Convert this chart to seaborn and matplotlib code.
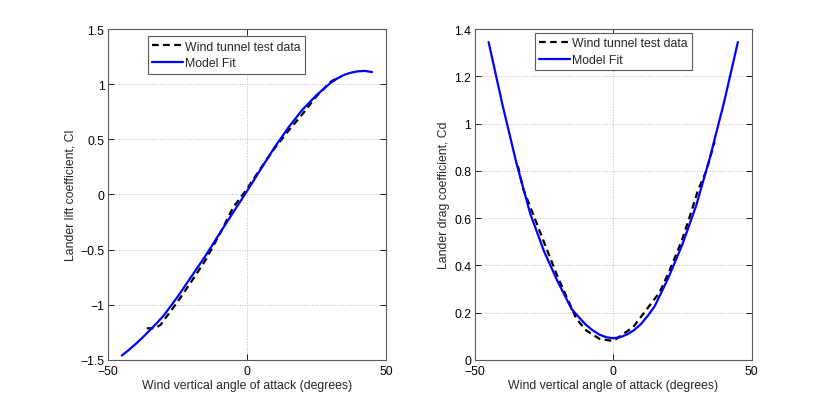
import matplotlib
matplotlib.use("Agg")
import matplotlib.pyplot as plt
import seaborn as sns
import pandas as pd

# Lift coefficient: model fit and wind tunnel data
lift_fit_alpha = [-45, -42.5, -40, -37.5, -35, -32.5, -30, -25, -20, -15, -10, -5, 0,
                  5, 10, 15, 20, 25, 30, 32.5, 35, 37.5, 40, 42.5, 45]
lift_fit_cl = [-1.46, -1.41, -1.355, -1.296, -1.233, -1.168, -1.10, -0.93, -0.745, -0.56,
               -0.36, -0.165, 0.03, 0.23, 0.43, 0.61, 0.77, 0.90, 1.01, 1.052, 1.085,
               1.105, 1.117, 1.12, 1.11]
lift_test_alpha = [-36, -33, -31, -25, -20, -15, -10, -5, 0, 5, 10, 15, 20, 25, 30, 32]
lift_test_cl = [-1.213, -1.213, -1.18, -0.975, -0.79, -0.60, -0.37, -0.12, 0.05,
                0.24, 0.42, 0.58, 0.73, 0.89, 1.02, 1.05]

# Drag coefficient: model fit and wind tunnel data
drag_fit_alpha = [-45, -40, -35, -30, -25, -20, -15, -12.5, -10, -7.5, -5, -2.5, 0,
                  2.5, 5, 7.5, 10, 12.5, 15, 20, 25, 30, 35, 40, 45]
drag_fit_cd = [1.345, 1.08, 0.835, 0.62, 0.46, 0.33, 0.215, 0.182, 0.15, 0.126, 0.107,
               0.096, 0.092, 0.096, 0.108, 0.126, 0.152, 0.187, 0.228, 0.35, 0.49,
               0.655, 0.86, 1.09, 1.345]
drag_test_alpha = [-34.4, -32.6, -28.3, -24.1, -20, -16, -13.3, -9.7, -4.9, 0,
                   2.3, 7.2, 10, 16.8, 20, 24.6, 28, 30.6, 33.6, 36.6]
drag_test_cd = [0.82, 0.726, 0.598, 0.471, 0.35, 0.245, 0.174, 0.124, 0.089, 0.08,
                0.099, 0.139, 0.182, 0.287, 0.37, 0.50, 0.62, 0.718, 0.80, 0.924]

x_ticks = [-50, 0, 50]
lift_ticks = [-1.5, -1, -0.5, 0, 0.5, 1, 1.5]
drag_ticks = [0, 0.2, 0.4, 0.6, 0.8, 1, 1.2, 1.4]

FS = 8.8

sns.set_style("ticks")
plt.rcParams['font.family'] = ['Liberation Sans', 'DejaVu Sans']
plt.rcParams['font.size'] = FS

fig = plt.figure(figsize=(8.3, 4.06), dpi=100)
ax1 = fig.add_axes([0.13, 0.111, 0.335, 0.815])
ax2 = fig.add_axes([0.572, 0.111, 0.3337, 0.815])


def fmt(v):
    return ('%g' % v).replace('-', '\u2212')


def draw(ax, ta, tv, fa, fv, yticks, ylim, ylabel, anchor):
    test = pd.DataFrame({'alpha': ta, 'val': tv})
    fit = pd.DataFrame({'alpha': fa, 'val': fv})
    sns.lineplot(data=test, x='alpha', y='val', ax=ax, color='black',
                 linestyle=(0, (3, 2)), linewidth=1.6, sort=False, estimator=None,
                 label='Wind tunnel test data')
    sns.lineplot(data=fit, x='alpha', y='val', ax=ax, color='#0000ff',
                 linewidth=1.6, sort=False, estimator=None, label='Model Fit')
    ax.set_xlim(-50, 50)
    ax.set_ylim(*ylim)
    ax.set_xticks(x_ticks)
    ax.set_xticklabels([fmt(v) for v in x_ticks])
    ax.set_yticks(yticks)
    ax.set_yticklabels([fmt(v) for v in yticks])
    ax.grid(True, linestyle=':', color='0.72', linewidth=0.7)
    ax.tick_params(direction='in', length=4, width=0.6, top=True, right=True,
                   labelsize=FS, colors='black')
    ax.tick_params(axis='x', pad=4)
    ax.tick_params(axis='y', pad=2.5)
    for s in ax.spines.values():
        s.set_visible(True)
        s.set_color('0.35')
        s.set_linewidth(0.8)
    ax.set_xlabel('Wind vertical angle of attack (degrees)', fontsize=FS, labelpad=1)
    ax.set_ylabel(ylabel, fontsize=FS, labelpad=3)
    leg = ax.legend(loc='upper left', bbox_to_anchor=anchor, fancybox=False,
                    framealpha=1, edgecolor='0.35', fontsize=FS,
                    handlelength=2.5, handletextpad=0.2, borderpad=0.35,
                    labelspacing=0.38, borderaxespad=0)
    leg.get_frame().set_linewidth(0.8)


draw(ax1, lift_test_alpha, lift_test_cl, lift_fit_alpha, lift_fit_cl,
     lift_ticks, (-1.5, 1.5), 'Lander lift coefficient, Cl', (0.145, 0.978))
draw(ax2, drag_test_alpha, drag_test_cd, drag_fit_alpha, drag_fit_cd,
     drag_ticks, (0, 1.4), 'Lander drag coefficient, Cd', (0.217, 0.988))

fig.savefig('out.png', dpi=100)
